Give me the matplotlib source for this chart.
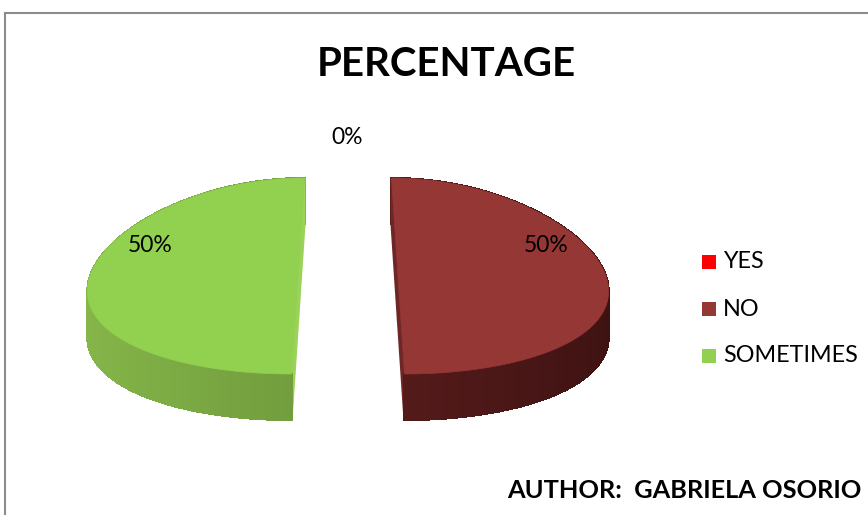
import numpy as np
import matplotlib
matplotlib.use("Agg")
import matplotlib.pyplot as plt
from matplotlib.patches import Polygon, Rectangle
from matplotlib.collections import PolyCollection

# data
categories = ["YES", "NO", "SOMETIMES"]
values = [0, 50, 50]
top_colors = ["#FF0000", "#953735", "#92D050"]
wall_light = ["#B00000", "#6A2322", "#86B64A"]
wall_dark = ["#800000", "#3E1212", "#5E8630"]
cut_colors = ["#C00000", "#6E2726", "#9AD25A"]

plt.rcParams["font.family"] = ["Lato", "DejaVu Sans"]

fig = plt.figure(figsize=(8.68, 5.15), dpi=100)
ax = fig.add_axes([0, 0, 1, 1])
ax.set_xlim(0, 868)
ax.set_ylim(515, 0)
ax.axis("off")

# pie geometry (pixel-ish coords, y down)
cx, cy = 348, 276
rx, ry = 208, 98
depth = 46
explode = 50
persp = 0.13


def to_screen(theta, dx, dy):
    # theta clockwise from top
    x = dx + rx * np.sin(theta)
    y = dy - ry * np.cos(theta)
    f = 1 + persp * (y - cy) / ry
    return cx + (x - cx) * f, y


total = float(sum(values))
start = 0.0
for i, v in enumerate(values):
    frac = v / total
    if frac == 0:
        continue
    t0 = start * 2 * np.pi
    t1 = (start + frac) * 2 * np.pi
    mid = (t0 + t1) / 2
    dx = cx + explode * np.sin(mid)
    dy = cy - explode * np.cos(mid) * ry / rx
    th = np.linspace(t0, t1, 300)
    xc = cx + (dx - cx) * (1 + persp * (dy - cy) / ry)

    # outer wall strips with a shading gradient, split into back and front
    c1 = np.array(matplotlib.colors.to_rgb(wall_light[i]))
    c2 = np.array(matplotlib.colors.to_rgb(wall_dark[i]))
    back, back_c, front, front_c = [], [], [], []
    for k in range(len(th) - 1):
        xa, ya = to_screen(th[k], dx, dy)
        xb, yb = to_screen(th[k + 1], dx, dy)
        s = (np.sin(th[k]) + 1) / 2
        q = [(xa, ya), (xb, yb), (xb, yb + depth), (xa, ya + depth)]
        c = c1 * (1 - s) + c2 * s
        if np.cos(th[k]) > 0:
            back.append(q)
            back_c.append(c)
        else:
            front.append(q)
            front_c.append(c)
    if back:
        ax.add_collection(PolyCollection(back, facecolors=back_c, edgecolors=back_c,
                                         linewidths=0.8, antialiaseds=False))

    # cut faces
    for t in (t0, t1):
        xe, ye = to_screen(t, dx, dy)
        ax.add_patch(Polygon([(xc, dy), (xe, ye), (xe, ye + depth), (xc, dy + depth)],
                             closed=True, facecolor=cut_colors[i], edgecolor=cut_colors[i], lw=1.5))

    ax.add_collection(PolyCollection(front, facecolors=front_c, edgecolors=front_c,
                                     linewidths=0.8, antialiaseds=False))

    # top face
    pts = [(xc, dy)] + [to_screen(t, dx, dy) for t in th]
    ax.add_patch(Polygon(pts, closed=True, facecolor=top_colors[i], edgecolor=top_colors[i], lw=0.5))

    start += frac

# percentage labels
label_pos = {"YES": (347, 138), "NO": (546, 245), "SOMETIMES": (150, 245)}
for cat, v in zip(categories, values):
    pct = "%d%%" % round(100 * v / total)
    x, y = label_pos[cat]
    ax.text(x, y, pct, fontsize=16.5, ha="center", va="center", color="black")

# title
ax.text(446, 64, "PERCENTAGE", fontsize=29, fontweight="bold", ha="center", va="center")

# legend
for j, (cat, col) in enumerate(zip(categories, top_colors)):
    y = 262 + j * 47
    ax.add_patch(Rectangle((702, y - 7), 14, 14, facecolor=col, edgecolor="none"))
    ax.text(723, y, cat, fontsize=16.8, ha="left", va="center")

# author
ax.text(862, 490, "AUTHOR:  GABRIELA OSORIO", fontsize=18.3, fontweight="bold", ha="right", va="center")

# frame
ax.plot([5, 868], [13, 13], color="#8C8C8C", lw=1.5)
ax.plot([5, 5], [13, 515], color="#8C8C8C", lw=1.5)

fig.savefig("out.png", dpi=100)
